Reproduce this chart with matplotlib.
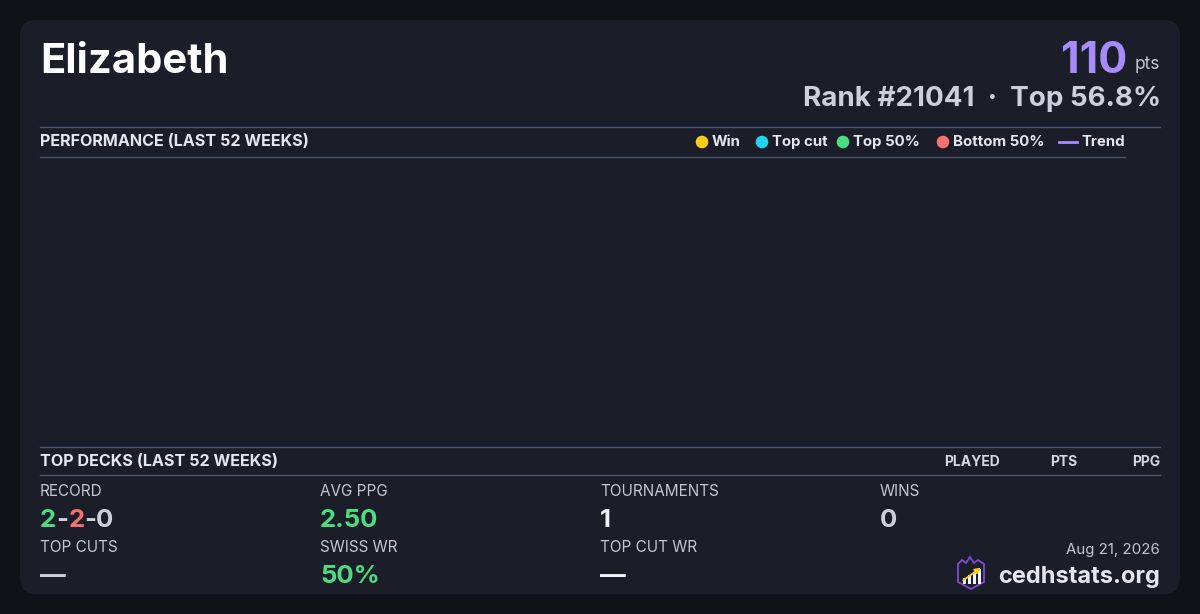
import matplotlib
matplotlib.use("Agg")
import matplotlib.pyplot as plt
from matplotlib.patches import FancyBboxPatch, Polygon, Rectangle, Circle

plt.rcParams['font.family'] = ['Inter', 'DejaVu Sans']

# data
player = "Elizabeth"
points = 110
rank = 21041
top_pct = 56.8
legend_names = ["Win", "Top cut", "Top 50%", "Bottom 50%", "Trend"]
legend_colors = ["#facc15", "#22d3ee", "#4ade80", "#f87171", "#a78bfa"]
weeks = []          # no results in the last 52 weeks
week_points = []
deck_cols = ["PLAYED", "PTS", "PPG"]
record = [2, 2, 0]
stat_labels = ["RECORD", "AVG PPG", "TOURNAMENTS", "WINS",
               "TOP CUTS", "SWISS WR", "TOP CUT WR"]
stat_values = [None, "2.50", "1", "0", "\u2014", "50%", "\u2014"]
stat_colors = [None, "#4ade80", "#f1f3f8", "#cbd0dc", "#cbd0dc", "#4ade80", "#f1f3f8"]
date_str = "Aug 21, 2026"
site = "cedhstats.org"

BG = "#111217"
CARD = "#1b1d29"
RULE = "#4a5670"
TXT = "#e4e7ef"
SUB = "#c3c7d3"

fig = plt.figure(figsize=(12, 6.14), dpi=100, facecolor=BG)
ax = fig.add_axes([0, 0, 1, 1])
ax.set_xlim(0, 1200)
ax.set_ylim(614, 0)
ax.axis("off")

ax.add_patch(FancyBboxPatch((20, 20), 1160, 574, boxstyle="round,pad=0,rounding_size=16",
                            fc=CARD, ec="none"))

# header
ax.text(40, 73, player, fontsize=30, fontweight="bold", color="#ffffff", va="baseline")
ax.text(1160, 69, "pts", fontsize=12.5, color=SUB, ha="right", va="baseline")
ax.text(1127, 73, str(points), fontsize=31, fontweight="bold", color="#a78bfa",
        ha="right", va="baseline")
ax.text(1161, 106, f"Rank #{rank}  \u00b7  Top {top_pct}%", fontsize=20,
        fontweight="bold", color="#cbd0dc", ha="right", va="baseline")

# performance section
ax.plot([40, 1160], [126.5, 126.5], color=RULE, lw=1)
ax.plot([40, 1125], [156.5, 156.5], color=RULE, lw=1)
ax.text(40, 142, "PERFORMANCE (LAST 52 WEEKS)", fontsize=11.6, fontweight="bold",
        color=TXT, va="center")

leg_x = [702, 762, 843, 943, 1059]
for x, name, c in zip(leg_x, legend_names, legend_colors):
    if name == "Trend":
        ax.plot([x, x + 18], [142, 142], color=c, lw=2)
        ax.text(x + 22, 142, name, fontsize=10.8, fontweight="bold", color=TXT, va="center")
    else:
        ax.add_patch(Circle((x, 142), 6.3, fc=c, ec="none"))
        ax.text(x + 10, 142, name, fontsize=10.8, fontweight="bold", color=TXT, va="center")

# empty performance chart
cax = fig.add_axes([40 / 1200, 1 - 446 / 614, 1085 / 1200, 289 / 614])
cax.plot(weeks, week_points, color=legend_colors[-1])
cax.axis("off")

# top decks section
ax.plot([40, 1160], [446.5, 446.5], color=RULE, lw=1)
ax.plot([40, 1160], [474.5, 474.5], color=RULE, lw=1)
ax.text(40, 462, "TOP DECKS (LAST 52 WEEKS)", fontsize=11.6, fontweight="bold",
        color=TXT, va="center")
for x, name in zip([1000, 1077, 1160], deck_cols):
    ax.text(x, 462, name, fontsize=10, fontweight="bold", color="#d4d8e2",
            ha="right", va="center")

# stats grid
col_x = [40, 320, 600, 880, 40, 320, 600]
row_y = [0, 0, 0, 0, 1, 1, 1]
for i, lab in enumerate(stat_labels):
    x = col_x[i]
    y0 = 492 + row_y[i] * 56
    ax.text(x, y0, lab, fontsize=11, color=SUB, va="center")
    if stat_values[i] is not None:
        ax.text(x, y0 + 35, stat_values[i], fontsize=18.5, fontweight="bold",
                color=stat_colors[i], va="baseline")

# record 2-2-0 in coloured pieces, placed by prefix width
fig.canvas.draw()
r = fig.canvas.get_renderer()
full = f"{record[0]}-{record[1]}-{record[2]}"
pieces = [(0, 1, "#4ade80"), (1, 2, "#cbd0dc"), (2, 3, "#f87171"), (3, 5, "#cbd0dc")]
for a, b, c in pieces:
    x = 40
    if a > 0:
        probe = ax.text(40, 527, full[:a], fontsize=18.5, fontweight="bold", va="baseline")
        x += probe.get_window_extent(renderer=r).width
        probe.remove()
    ax.text(x, 527, full[a:b], fontsize=18.5, fontweight="bold", color=c, va="baseline")

# footer
ax.text(1160, 550, date_str, fontsize=10.8, color=SUB, ha="right", va="center")
ax.text(1160, 583, site, fontsize=17, fontweight="bold", color=TXT, ha="right", va="baseline")

# little logo
shield = [(958, 564), (962, 560), (966, 563), (970, 557), (974, 563), (978, 560),
          (984, 564), (984, 582), (971, 589), (958, 582)]
ax.add_patch(Polygon(shield, closed=True, fc="none", ec="#7c4dcc", lw=1.3))
for bx, bh in zip([963, 968, 973, 978], [6, 9, 12, 15]):
    ax.add_patch(Rectangle((bx, 584 - bh), 3, bh, fc="#f1f3f8", ec="none"))
ax.annotate("", xy=(983, 566), xytext=(961, 582),
            arrowprops=dict(arrowstyle="-|>", color="#facc15", lw=1.3, mutation_scale=8))

fig.savefig("out.png", dpi=100, facecolor=BG)
